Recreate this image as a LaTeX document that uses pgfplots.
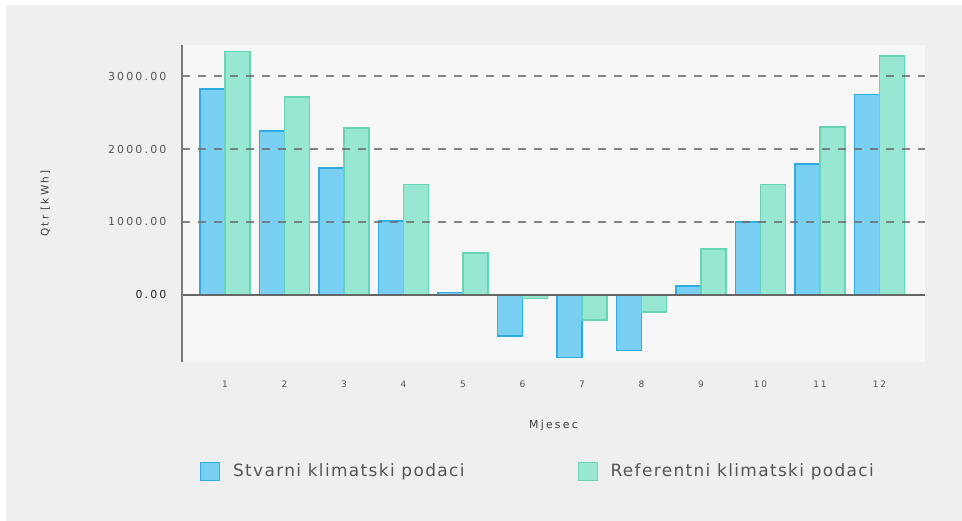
\documentclass[border=0pt]{standalone}
\usepackage{fontspec}
\setmainfont{DejaVu Sans}
\newfontfamily\tickfont[LetterSpace=20]{DejaVu Sans}
\newfontfamily\legfont[LetterSpace=8]{DejaVu Sans}
\usepackage{pgfplots}
\pgfplotsset{compat=1.18}
\definecolor{outerbg}{HTML}{EFEFEF}
\definecolor{plotbg}{HTML}{F7F7F7}
\definecolor{bluefill}{RGB}{122,208,243}
\definecolor{blueedge}{RGB}{45,172,226}
\definecolor{greenfill}{RGB}{152,231,211}
\definecolor{greenedge}{RGB}{104,212,182}
\definecolor{gridc}{HTML}{707070}
\definecolor{axisc}{HTML}{7A7A7A}
\definecolor{labc}{HTML}{555555}
\begin{document}
\begin{tikzpicture}[x=1bp,y=1bp]
\fill[white] (0,0) rectangle (962,-521);
\fill[outerbg] (6,-5) rectangle (962,-521);
\begin{axis}[
  at={(182bp,-362bp)}, anchor=south west,
  scale only axis, width=743bp, height=317bp,
  xmin=0.277, xmax=12.765,
  ymin=-918, ymax=3425,
  axis background/.style={fill=plotbg},
  axis lines*=left,
  axis line style={draw=none},
  ytick={0,1000,2000,3000},
  yticklabels={{\color{black!85}0.00},1000.00,2000.00,3000.00},
  xtick={1,...,12},
  /pgf/number format/assume math mode=true,
  tick style={draw=none},
  yticklabel style={font=\tickfont\fontsize{11}{13}\selectfont, text=labc, xshift=-12bp},
  xticklabel style={font=\tickfont\fontsize{9}{11}\selectfont, text=labc, yshift=-15bp},
  xlabel={Mjesec},
  ylabel={Qtr [kWh]},
  xlabel style={font=\tickfont\fontsize{11}{13}\selectfont, text=black!75, at={(0.5,-0.2)}, anchor=center},
  ylabel style={font=\tickfont\fontsize{10.5}{12}\selectfont, text=black!75, at={(-0.184,0.5)}, anchor=center, rotate=0},
  clip=false,
  legend style={draw=none, fill=none, at={(0.479,-0.344)}, anchor=center,
    font=\legfont\fontsize{17}{20}\selectfont\color{labc},
    /tikz/every even column/.append style={column sep=111bp}},
  legend columns=2,
  legend image code/.code={\draw[#1] (0bp,-9bp) rectangle (19bp,9bp); \path (30bp,0bp);},
]
\addplot[ybar, bar width=0.42, bar shift=-0.21, fill=bluefill, draw=blueedge, line width=1.1pt] coordinates {
 (1,2822) (2,2247) (3,1740) (4,1014) (5,40) (6,-562) (7,-860) (8,-757) (9,123) (10,1000) (11,1795) (12,2753)};
\addlegendentry{Stvarni klimatski podaci}
\addplot[ybar, bar width=0.42, bar shift=0.21, fill=greenfill, draw=greenedge, line width=1.1pt] coordinates {
 (1,3342) (2,2712) (3,2288) (4,1520) (5,575) (6,-45) (7,-342) (8,-233) (9,630) (10,1520) (11,2301) (12,3274)};
\addlegendentry{Referentni klimatski podaci}
% grid lines
\addplot[gridc, line width=1.4pt, dash pattern=on 8bp off 8bp, opacity=0.85, forget plot] coordinates {(0.277,1000) (12.765,1000)};
\addplot[gridc, line width=1.4pt, dash pattern=on 8bp off 8bp, opacity=0.85, forget plot] coordinates {(0.277,2000) (12.765,2000)};
\addplot[gridc, line width=1.4pt, dash pattern=on 8bp off 8bp, opacity=0.85, forget plot] coordinates {(0.277,3000) (12.765,3000)};
% zero line
\addplot[black!60, line width=1.8pt, forget plot] coordinates {(0.277,0) (12.765,0)};
% y axis line
\addplot[axisc, line width=2.6pt, forget plot] coordinates {(0.277,-918) (0.277,3425)};
\end{axis}
\end{tikzpicture}
\end{document}
